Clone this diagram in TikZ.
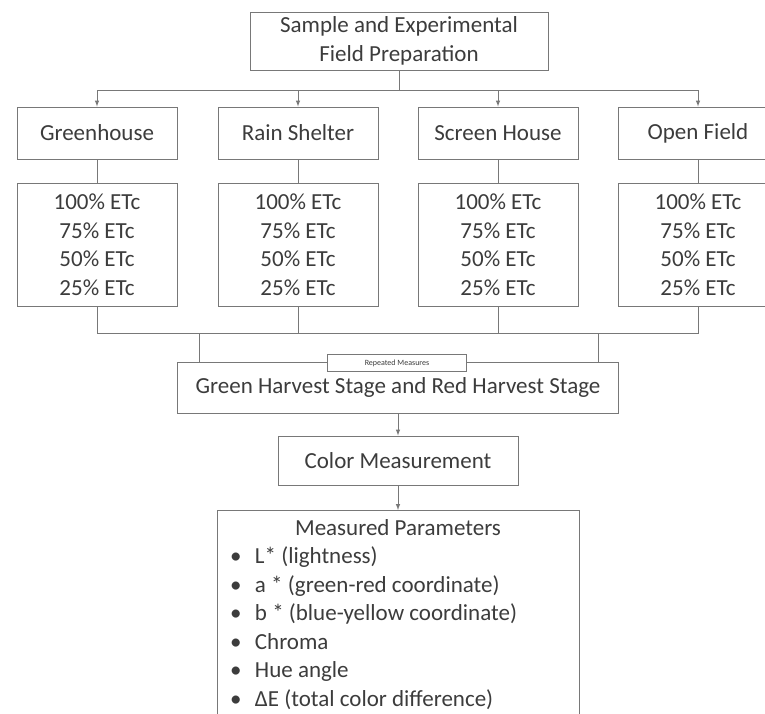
\documentclass[tikz,border=0pt]{standalone}
\usepackage{fontspec}
\setmainfont{Carlito}
\usetikzlibrary{positioning}
\definecolor{linegray}{RGB}{120,120,120}
\definecolor{textgray}{RGB}{60,60,60}
\tikzset{>=latex}
\tikzset{
  box/.style={draw=linegray,line width=1pt,text=textgray,inner sep=0pt,align=center,font=\fontsize{23}{28.5}\selectfont},
  conn/.style={draw=linegray,line width=1pt}
}

\begin{document}
\begin{tikzpicture}[x=1pt,y=-1pt]
\useasboundingbox (0,0) rectangle (765,713);
\node[box,minimum width=298,minimum height=58] (prep) at (399,41) {Sample and Experimental\\Field Preparation};
\node[box,minimum width=160,minimum height=52] (green) at (97,133) {Greenhouse};
\node[box,minimum width=160,minimum height=52] (rain) at (298,133) {Rain Shelter};
\node[box,minimum width=160,minimum height=52] (screen) at (498,133) {Screen House};
\node[box,minimum width=160,minimum height=52] (open) at (698,133) {Open Field};
\foreach \n/\x in {green/97,rain/298,screen/498,open/698}
  \node[box,minimum width=160,minimum height=123] (\n-etc) at (\x,244.5) {100\% ETc\\75\% ETc\\50\% ETc\\25\% ETc};
\node[box,minimum width=441,minimum height=51] (harvest) at (398,387.5) {Green Harvest Stage and Red Harvest Stage};
\node[draw=linegray,fill=white,line width=0.8pt,text=textgray,inner sep=0pt,minimum width=139,minimum height=17,font=\fontsize{8}{9}\selectfont] (repeated) at (397,363) {Repeated Measures};
\node[box,minimum width=240,minimum height=49] (color) at (398,460.5) {Color Measurement};
\node[box,anchor=north,align=left,minimum width=362,inner xsep=13,inner ysep=9] (params) at (398,510) {%
\makebox[336pt]{Measured Parameters}\\
\makebox[25pt][l]{\textbullet}L* (lightness)\\
\makebox[25pt][l]{\textbullet}a * (green-red coordinate)\\
\makebox[25pt][l]{\textbullet}b * (blue-yellow coordinate)\\
\makebox[25pt][l]{\textbullet}Chroma\\
\makebox[25pt][l]{\textbullet}Hue angle\\
\makebox[25pt][l]{\textbullet}ΔE (total color difference)};
% connectors
\coordinate[below=20pt of prep.south] (bus);
\draw[conn] (prep.south) -- (bus);
\foreach \n in {green,rain,screen,open}
  \draw[conn,->] (bus) -| (\n.north);
\foreach \n in {green,rain,screen,open}
  \draw[conn] (\n.south) -- (\n-etc.north);
\coordinate[below=27pt of green-etc.south] (mergeL);
\coordinate[below=27pt of open-etc.south] (mergeR);
\draw[conn] (green-etc.south) -- (mergeL) -- (mergeR) -- (open-etc.south);
\draw[conn] (rain-etc.south) -- (rain-etc.south |- mergeL);
\draw[conn] (screen-etc.south) -- (screen-etc.south |- mergeL);
\coordinate (feedL) at ([xshift=22pt]harvest.north west);
\coordinate (feedR) at ([xshift=-21pt]harvest.north east);
\draw[conn] (feedL |- mergeL) -- (feedL);
\draw[conn] (feedR |- mergeL) -- (feedR);
\draw[conn,->] (harvest.south) -- (color.north);
\draw[conn,->] (color.south) -- (params.north);
\end{tikzpicture}
\end{document}
